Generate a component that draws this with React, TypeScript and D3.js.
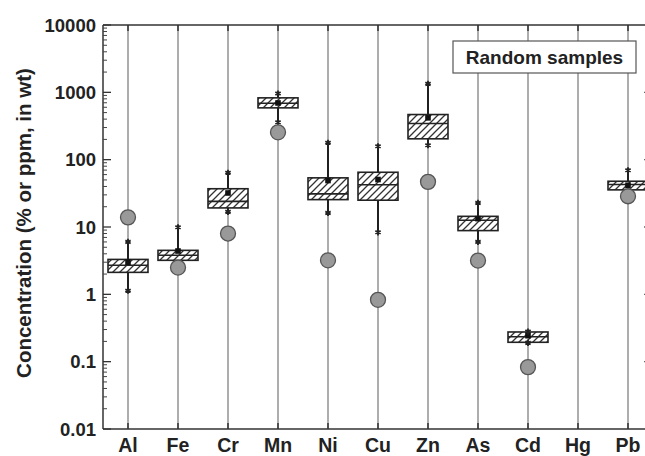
import * as d3 from 'd3'

// element categories along the x axis
const elements = ['Al', 'Fe', 'Cr', 'Mn', 'Ni', 'Cu', 'Zn', 'As', 'Cd', 'Hg', 'Pb']

// box statistics (null = no data, Hg)
const q1 = [2.12, 3.2, 19.2, 588, 25.5, 25, 204, 8.84, 0.194, null, 35.6]
const q3 = [3.3, 4.5, 37, 828, 53.7, 65, 468, 14.4, 0.276, null, 47.8]
const median = [2.7, 3.8, 24, 690, 31, 42.4, 344, 12.6, 0.235, null, 42.7]
const mean = [3.0, 4.4, 32, 695, 49, 50.7, 418, 13.3, 0.243, null, 41.7]
const whiskerLow = [1.13, 2.8, 16.8, 359, 16.2, 8.34, 164, 6.0, 0.19, null, 33]
const whiskerHigh = [6.0, 9.9, 64, 960, 178, 158, 1337, 22.8, 0.28, null, 69.5]

// the random sample values (grey circles)
const randomSample = [13.9, 2.5, 8.0, 255, 3.2, 0.83, 46.8, 3.17, 0.083, null, 28.6]

const yTickValues = [10000, 1000, 100, 10, 1, 0.1, 0.01]
const yTickLabels = ['10000', '1000', '100', '10', '1', '0.1', '0.01']

const width = 645
const height = 456
const margin = { top: 25, bottom: 429, left: 103, right: 653 }
const font = '"Liberation Sans", Arial, sans-serif'

export default function App() {
  const y = d3.scaleLog().domain([0.01, 10000]).range([margin.bottom, margin.top])
  const x = d3.scaleBand().domain(elements).range([margin.left, margin.right]).padding(0)
  const cx = (e: string) => (x(e) ?? 0) + x.bandwidth() / 2
  const boxW = 40

  const minorTicks = y.ticks().filter(t => !yTickValues.some(v => Math.abs(v - t) / v < 1e-6))
  const star = d3.symbol().type(d3.symbolAsterisk).size(26)()

  return (
    <svg width={width} height={height} style={{ position: 'absolute', left: 0, top: 0, background: '#fff' }} fontFamily={font}>
      <defs>
        <pattern id="hatch" patternUnits="userSpaceOnUse" width="7" height="7">
          <path d="M-1,1 l2,-2 M0,7 l7,-7 M6,8 l2,-2" stroke="#333" strokeWidth="1.3" />
        </pattern>
      </defs>

      {/* vertical guide lines per element */}
      {elements.map(e => (
        <line key={'g' + e} x1={cx(e)} x2={cx(e)} y1={margin.top} y2={margin.bottom} stroke="#999" strokeWidth={1.6} />
      ))}

      {/* frame */}
      <line x1={margin.left} x2={width} y1={margin.top} y2={margin.top} stroke="#333" strokeWidth={1.5} />
      <line x1={margin.left} x2={width} y1={margin.bottom} y2={margin.bottom} stroke="#333" strokeWidth={1.5} />
      <line x1={margin.left} x2={margin.left} y1={margin.top} y2={margin.bottom} stroke="#333" strokeWidth={1.5} />
      <line x1={margin.right} x2={margin.right} y1={margin.top} y2={margin.bottom} stroke="#333" strokeWidth={1.5} />

      {/* category ticks top and bottom */}
      {elements.map(e => (
        <g key={'t' + e}>
          <line x1={cx(e)} x2={cx(e)} y1={margin.top} y2={margin.top + 6} stroke="#333" strokeWidth={1.5} />
          <line x1={cx(e)} x2={cx(e)} y1={margin.bottom} y2={margin.bottom - 6} stroke="#333" strokeWidth={1.5} />
        </g>
      ))}

      {/* log ticks left and right (inward) */}
      {yTickValues.map(v => (
        <g key={'yt' + v}>
          <line x1={margin.left} x2={margin.left + 8} y1={y(v)} y2={y(v)} stroke="#333" strokeWidth={1.3} />
          <line x1={margin.right} x2={margin.right - 9} y1={y(v)} y2={y(v)} stroke="#666" strokeWidth={1.3} />
        </g>
      ))}
      {minorTicks.map(v => (
        <g key={'ym' + v}>
          <line x1={margin.left} x2={margin.left + 4} y1={y(v)} y2={y(v)} stroke="#444" strokeWidth={1} />
          <line x1={margin.right} x2={margin.right - 4} y1={y(v)} y2={y(v)} stroke="#777" strokeWidth={1} />
        </g>
      ))}
      {yTickValues.map((v, i) => (
        <text key={'yl' + v} x={96} y={y(v)} dy="0.36em" textAnchor="end" fontSize={18.5} fontWeight="bold" fill="#222">
          {yTickLabels[i]}
        </text>
      ))}

      {/* x labels */}
      {elements.map(e => (
        <text key={'xl' + e} x={cx(e)} y={452} textAnchor="middle" fontSize={19.5} fontWeight="bold" fill="#222">
          {e}
        </text>
      ))}

      {/* y title */}
      <text transform={`translate(31,223) rotate(-90)`} textAnchor="middle" fontSize={20.5} fontWeight="bold" fill="#222">
        Concentration (% or ppm, in wt)
      </text>

      {/* boxes */}
      {elements.map((e, i) => {
        if (q1[i] == null) return null
        const c = cx(e)
        return (
          <g key={'b' + e}>
            <line x1={c} x2={c} y1={y(whiskerLow[i]!)} y2={y(whiskerHigh[i]!)} stroke="#111" strokeWidth={1.8} />
            <rect x={c - boxW / 2} y={y(q3[i]!)} width={boxW} height={y(q1[i]!) - y(q3[i]!)} fill="#fff" />
            <rect x={c - boxW / 2} y={y(q3[i]!)} width={boxW} height={y(q1[i]!) - y(q3[i]!)} fill="url(#hatch)" stroke="#222" strokeWidth={1.6} />
            <line x1={c - boxW / 2} x2={c + boxW / 2} y1={y(median[i]!)} y2={y(median[i]!)} stroke="#222" strokeWidth={1.6} />
            <rect x={c - 2.8} y={y(mean[i]!) - 2.8} width={5.6} height={5.6} fill="#111" />
            <path d={star!} transform={`translate(${c},${y(whiskerLow[i]!)})`} stroke="#222" strokeWidth={1.8} fill="none" />
            <path d={star!} transform={`translate(${c},${y(whiskerHigh[i]!)})`} stroke="#222" strokeWidth={1.8} fill="none" />
          </g>
        )
      })}

      {/* random samples */}
      {elements.map((e, i) =>
        randomSample[i] == null ? null : (
          <circle key={'r' + e} cx={cx(e)} cy={y(randomSample[i]!)} r={7.5} fill="#999" stroke="#555" strokeWidth={1.3} />
        )
      )}

      {/* legend */}
      <rect x={453} y={41} width={183} height={32} fill="#fff" stroke="#555" strokeWidth={1.2} />
      <text x={544.5} y={64} textAnchor="middle" fontSize={19} fontWeight="bold" fill="#222">
        Random samples
      </text>
    </svg>
  )
}
